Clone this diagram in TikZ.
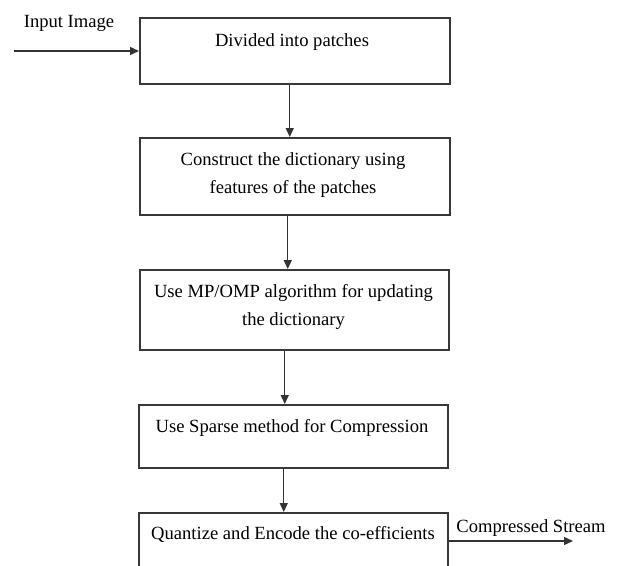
\documentclass[tikz,border=0pt]{standalone}
\usepackage{fontspec}
\setmainfont{Liberation Serif}
\usetikzlibrary{arrows.meta,calc}
\tikzset{
  stage/.style={draw=black!78, line width=1.5pt, minimum width=310pt, inner sep=0pt, anchor=north west},
  caption/.style={font=\fontsize{18.6}{28}\selectfont, text=black, align=center, anchor=base, inner sep=0pt},
  flow/.style={draw=black!80, line width=1.4pt, -{Triangle[length=9pt,width=8pt]}},
}
\begin{document}
\begin{tikzpicture}[x=1pt,y=-1pt]
\clip (0,0) rectangle (617,565);

% process stages
\node[stage, minimum height=66pt] (b1) at (139,17) {};
\node[stage, minimum height=77pt] (b2) at (139,137) {};
\node[stage, minimum height=80pt, minimum width=309pt] (b3) at (139,269) {};
\node[stage, minimum height=63pt, minimum width=309pt] (b4) at (138,404) {};
\node[stage, minimum height=80pt, minimum width=309pt] (b5) at (138,512) {};

% stage texts (two-line captions sit on the baseline of their last line)
\node[caption] (t1) at (292,46) {Divided into patches};
\node[caption] (t2) at (293,193) {Construct the dictionary using\\features of the patches};
\node[caption] (t3) at (293.5,325) {Use MP/OMP algorithm for updating\\the dictionary};
\node[caption] (t4) at (292,432) {Use Sparse method for Compression};
\node[caption] (t5) at (293,539) {Quantize and Encode the co-efficients};

% input and output
\node[caption] (inlbl) at (69,27) {Input Image};
\node[caption] (outlbl) at (531,532) {Compressed Stream};
\coordinate (src) at (14,51);
\coordinate (sink) at (573,541);

\draw[flow] (src) -- (b1.west |- src);
\draw[flow] ($(b1.south)+(-5,0)$) -- ($(b1.south |- b2.north)+(-5,0)$);
\draw[flow] ($(b2.south)+(-7,0)$) -- ($(b2.south |- b3.north)+(-7,0)$);
\draw[flow] ($(b3.south)+(-9.5,0)$) -- ($(b3.south |- b4.north)+(-9.5,0)$);
\draw[flow] ($(b4.south)+(-9.5,0)$) -- ($(b4.south |- b5.north)+(-9.5,0)$);
\draw[flow] (b5.east |- sink) -- (sink);
\end{tikzpicture}
\end{document}
